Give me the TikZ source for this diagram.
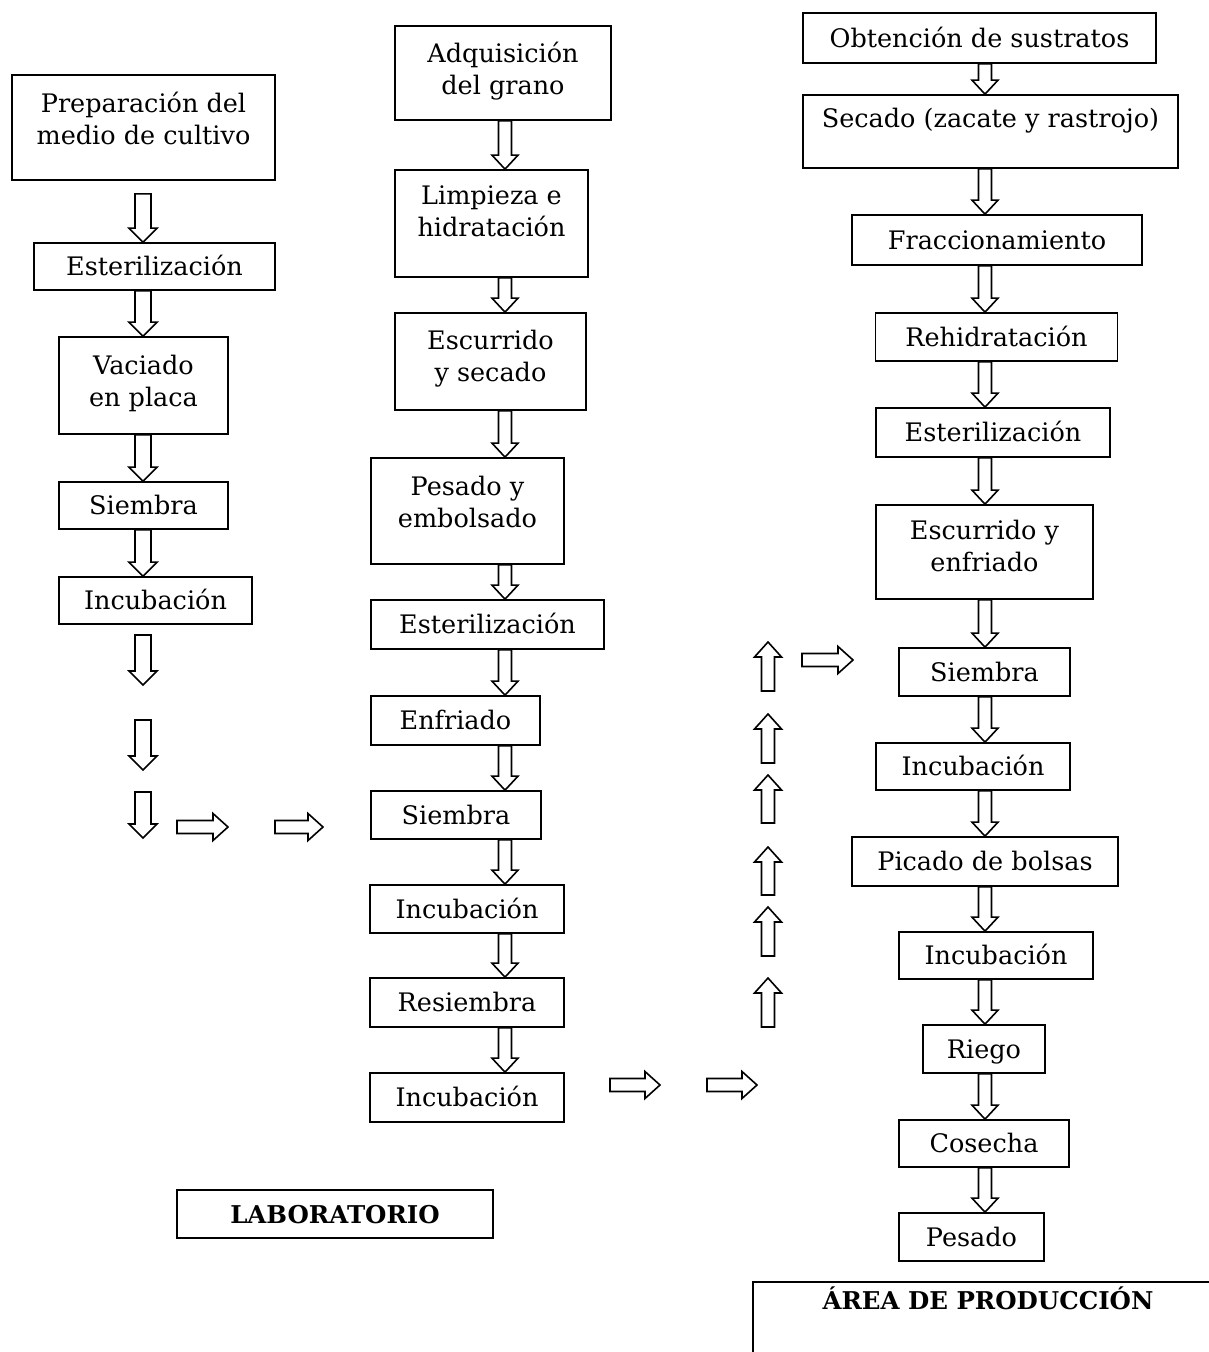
\documentclass[tikz,border=0pt]{standalone}
\usepackage{fontspec}
\setmainfont{DejaVu Serif}
\usetikzlibrary{calc}
\tikzset{
  box/.style={draw, line width=1.7pt, rectangle, inner sep=0pt, align=center,
    font=\fontsize{25.5}{32}\selectfont},
  one/.style={text height=18pt, text depth=0pt},
  sz/.style 2 args={minimum width=#1pt, minimum height=#2pt},
  title/.style={font=\fontsize{24.5}{30}\selectfont\bfseries},
  blk/.style={draw, line width=1.6pt, line join=miter},
  arrd/.style 2 args={to path={let \p1=(\tikztostart), \p2=(\tikztotarget) in
    ({\x1-#1},\y1) -- ({\x1-#1},{\y2+14pt}) -- ({\x1-#2},{\y2+14pt}) -- (\x1,\y2)
    -- ({\x1+#2},{\y2+14pt}) -- ({\x1+#1},{\y2+14pt}) -- ({\x1+#1},\y1) -- cycle}},
  arru/.style 2 args={to path={let \p1=(\tikztostart), \p2=(\tikztotarget) in
    ({\x1-#1},\y1) -- ({\x1-#1},{\y2-15pt}) -- ({\x1-#2},{\y2-15pt}) -- (\x1,\y2)
    -- ({\x1+#2},{\y2-15pt}) -- ({\x1+#1},{\y2-15pt}) -- ({\x1+#1},\y1) -- cycle}},
  arrr/.style 2 args={to path={let \p1=(\tikztostart), \p2=(\tikztotarget) in
    (\x1,{\y1-#1}) -- ({\x2-15pt},{\y1-#1}) -- ({\x2-15pt},{\y1-#2}) -- (\x2,\y1)
    -- ({\x2-15pt},{\y1+#2}) -- ({\x2-15pt},{\y1+#1}) -- (\x1,{\y1+#1}) -- cycle}},
  da/.style={blk, arrd={6.5pt}{13pt}},
  dA/.style={blk, arrd={8pt}{14pt}},
  ua/.style={blk, arru={6.5pt}{13.5pt}},
  ra/.style={blk, arrr={6.5pt}{13.5pt}},
}
\begin{document}
\begin{tikzpicture}[x=1pt, y=-1pt]
\useasboundingbox (0,0) rectangle (1209,1352);
\clip (0,0) rectangle (1209,1352);
\fill[white] (0,0) rectangle (1209,1352);

% column axes
\coordinate (c1) at (143,0);
\coordinate (c2) at (505,0);
\coordinate (c3) at (985,0);

% ---- column 1
\node[box, sz={263}{105}, text depth=19pt] (A1) at (143.5,127.5) {Preparación del\\medio de cultivo};
\node[box, one, sz={241}{47}] (A2) at (154.5,266.5) {Esterilización};
\node[box, sz={169}{97}, text depth=10pt] (A3) at (143.5,385.5) {Vaciado\\en placa};
\node[box, one, sz={169}{47}] (A4) at (143.5,505.5) {Siembra};
\node[box, one, sz={193}{47}] (A5) at (155.5,600.5) {Incubación};

\draw[dA] ($(A1.south -| c1)+(0,13)$) to (A2.north -| c1);
\draw[dA] (A2.south -| c1) to (A3.north -| c1);
\draw[dA] (A3.south -| c1) to (A4.north -| c1);
\draw[dA] (A4.south -| c1) to (A5.north -| c1);

\coordinate (p1a) at (143,635); \coordinate (p1b) at (143,685);
\coordinate (p2a) at (143,720); \coordinate (p2b) at (143,770);
\coordinate (p3a) at (143,792); \coordinate (p3b) at (143,838);
\draw[dA] (p1a) to (p1b);
\draw[dA] (p2a) to (p2b);
\draw[dA] (p3a) to (p3b);
\coordinate (h1a) at (177,827); \coordinate (h1b) at (228,827);
\coordinate (h2a) at (275,827); \coordinate (h2b) at (323,827);
\draw[ra] (h1a) to (h1b);
\draw[ra] (h2a) to (h2b);

% ---- column 2
\node[box, sz={216}{94}, text depth=10pt] (B1) at (503,73) {Adquisición\\del grano};
\node[box, sz={193}{107}, text depth=24pt] (B2) at (491.5,223.5) {Limpieza e\\hidratación};
\node[box, sz={191}{97}, text depth=12pt] (B3) at (490.5,361.5) {Escurrido\\y secado};
\node[box, sz={193}{106}, text depth=18pt] (B4) at (467.5,511) {Pesado y\\embolsado};
\node[box, one, sz={233}{49}] (B5) at (487.5,624.5) {Esterilización};
\node[box, one, sz={169}{49}] (B6) at (455.5,720.5) {Enfriado};
\node[box, one, sz={170}{48}] (B7) at (456,815) {Siembra};
\node[box, one, sz={194}{48}] (B8) at (467,909) {Incubación};
\node[box, one, sz={194}{49}] (B9) at (467,1002.5) {Resiembra};
\node[box, one, sz={194}{49}] (B10) at (467,1097.5) {Incubación};

\draw[da] (B1.south -| c2) to (B2.north -| c2);
\draw[da] (B2.south -| c2) to (B3.north -| c2);
\draw[da] (B3.south -| c2) to (B4.north -| c2);
\draw[da] (B4.south -| c2) to (B5.north -| c2);
\draw[da] (B5.south -| c2) to (B6.north -| c2);
\draw[da] (B6.south -| c2) to (B7.north -| c2);
\draw[da] (B7.south -| c2) to (B8.north -| c2);
\draw[da] (B8.south -| c2) to (B9.north -| c2);
\draw[da] (B9.south -| c2) to (B10.north -| c2);

\coordinate (h3a) at (610,1085); \coordinate (h3b) at (660,1085);
\coordinate (h4a) at (707,1085); \coordinate (h4b) at (757,1085);
\draw[ra] (h3a) to (h3b);
\draw[ra] (h4a) to (h4b);

% up arrows
\coordinate (u1a) at (768,1027); \coordinate (u1b) at (768,978);
\coordinate (u2a) at (768,956);  \coordinate (u2b) at (768,907);
\coordinate (u3a) at (768,895);  \coordinate (u3b) at (768,847);
\coordinate (u4a) at (768,823);  \coordinate (u4b) at (768,775);
\coordinate (u5a) at (768,763);  \coordinate (u5b) at (768,714);
\coordinate (u6a) at (768,691);  \coordinate (u6b) at (768,642);
\draw[ua] (u1a) to (u1b);
\draw[ua] (u2a) to (u2b);
\draw[ua] (u3a) to (u3b);
\draw[ua] (u4a) to (u4b);
\draw[ua] (u5a) to (u5b);
\draw[ua] (u6a) to (u6b);
\coordinate (h5a) at (802,660); \coordinate (h5b) at (853,660);
\draw[ra] (h5a) to (h5b);

% ---- column 3
\node[box, one, sz={353}{50}] (C1) at (979.5,38) {Obtención de sustratos};
\node[box, one, sz={375}{73}, text depth=27pt] (C2) at (990.5,131.5) {Secado (zacate y rastrojo)};
\node[box, one, sz={290}{50}] (C3) at (997,240) {Fraccionamiento};
\node[box, one, sz={242}{48}] (C4) at (996.5,337) {Rehidratación};
\node[box, one, sz={234}{49}] (C5) at (993,432.5) {Esterilización};
\node[box, sz={217}{94}, text depth=12pt] (C6) at (984.5,552) {Escurrido y\\enfriado};
\node[box, one, sz={171}{48}] (C7) at (984.5,672) {Siembra};
\node[box, one, sz={194}{47}] (C8) at (973,766.5) {Incubación};
\node[box, one, sz={266}{49}] (C9) at (985,861.5) {Picado de bolsas};
\node[box, one, sz={194}{47}] (C10) at (996,955.5) {Incubación};
\node[box, one, sz={122}{48}] (C11) at (984,1049) {Riego};
\node[box, one, sz={170}{47}] (C12) at (984,1143.5) {Cosecha};
\node[box, one, sz={145}{48}] (C13) at (971.5,1237) {Pesado};

\draw[da] (C1.south -| c3) to (C2.north -| c3);
\draw[da] (C2.south -| c3) to (C3.north -| c3);
\draw[da] (C3.south -| c3) to (C4.north -| c3);
\draw[da] (C4.south -| c3) to (C5.north -| c3);
\draw[da] (C5.south -| c3) to (C6.north -| c3);
\draw[da] (C6.south -| c3) to (C7.north -| c3);
\draw[da] (C7.south -| c3) to (C8.north -| c3);
\draw[da] (C8.south -| c3) to (C9.north -| c3);
\draw[da] (C9.south -| c3) to (C10.north -| c3);
\draw[da] (C10.south -| c3) to (C11.north -| c3);
\draw[da] (C11.south -| c3) to (C12.north -| c3);
\draw[da] (C12.south -| c3) to (C13.north -| c3);

% ---- area labels
\node[box, one, title, sz={316}{48}] (lab) at (335,1214) {LABORATORIO};
\node[box, one, title, sz={470}{90}, text depth=54pt] (area) at (988,1327) {ÁREA DE PRODUCCIÓN};
\end{tikzpicture}
\end{document}
